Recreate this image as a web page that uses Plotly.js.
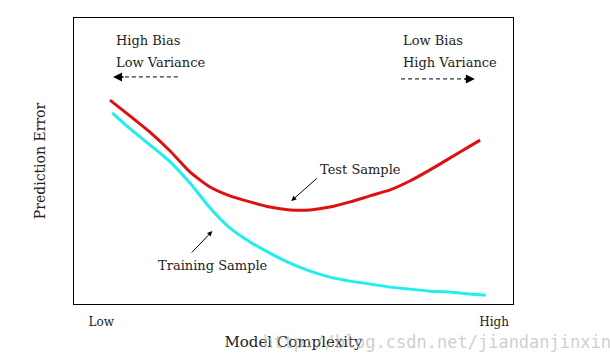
<!DOCTYPE html>
<html>
<head>
<meta charset="utf-8">
<script src="https://cdn.plot.ly/plotly-3.0.1.min.js"></script>
<style>html,body{margin:0;padding:0;background:#fff;}#chart{width:610px;height:357px;}</style>
</head>
<body>
<div id="chart"></div>
<script>
// Model complexity (0 = low, 100 = high) and prediction error (arbitrary units)
var testX = [8.2, 12.8, 17.3, 21.9, 26.4, 31.0, 35.5, 40.1, 44.6, 49.2, 53.8, 58.3, 62.9, 67.4, 72.0, 76.5, 81.1, 85.6, 90.2, 92.5];
var testY = [71.3, 65.7, 60.1, 53.5, 46.2, 40.9, 37.8, 35.7, 33.9, 32.9, 32.9, 33.9, 35.7, 37.8, 39.9, 43.0, 46.9, 51.0, 55.2, 57.3];
var trainX = [8.7, 12.8, 17.3, 21.9, 26.4, 31.0, 35.5, 40.1, 44.6, 49.2, 53.8, 58.3, 62.9, 67.4, 72.0, 76.5, 81.1, 85.6, 90.2, 93.8];
var trainY = [66.8, 61.2, 55.6, 49.7, 42.3, 33.6, 26.6, 21.7, 17.8, 14.3, 11.5, 9.4, 8.0, 7.0, 5.9, 5.2, 4.5, 4.2, 3.5, 3.1];
var tickVals = [6.2, 95.7];
var tickText = ["Low", "High"];

var serif = "'DejaVu Serif', 'Liberation Serif', serif";
var txtColor = "#222";

var traces = [
  {x: testX, y: testY, mode: "lines", name: "Test Sample",
   line: {color: "#dd1111", width: 3, shape: "spline", smoothing: 0.6}},
  {x: trainX, y: trainY, mode: "lines", name: "Training Sample",
   line: {color: "#22eeee", width: 3, shape: "spline", smoothing: 0.6}}
];

var layout = {
  width: 610, height: 357,
  margin: {l: 74, r: 97, t: 18, b: 53},
  paper_bgcolor: "#fff", plot_bgcolor: "#fff",
  showlegend: false,
  xaxis: {
    range: [0, 100], showgrid: false, zeroline: false,
    showline: true, mirror: true, linecolor: "#000", linewidth: 1,
    tickvals: tickVals, ticktext: tickText, ticks: "",
    ticklabelstandoff: 7,
    tickfont: {family: serif, size: 12, color: txtColor},
    title: {text: "Model Complexity", font: {family: serif, size: 15, color: txtColor}, standoff: 8}
  },
  yaxis: {
    range: [0, 100], showgrid: false, zeroline: false,
    showline: true, mirror: true, linecolor: "#000", linewidth: 1,
    showticklabels: false, ticks: "",
    title: {text: "Prediction Error", font: {family: serif, size: 14, color: txtColor}, standoff: 24}
  },
  shapes: [
    {type: "line", xref: "x", yref: "y", x0: 10, x1: 24, y0: 79.4, y1: 79.4,
     line: {color: "#000", width: 1, dash: "4px,3px"}},
    {type: "line", xref: "x", yref: "y", x0: 74.5, x1: 89, y0: 78.7, y1: 78.7,
     line: {color: "#000", width: 1, dash: "4px,3px"}}
  ],
  annotations: [
    {x: 9.1, y: 92.0, xref: "x", yref: "y", text: "High Bias", showarrow: false, xanchor: "left",
     font: {family: serif, size: 13, color: txtColor}},
    {x: 9.1, y: 84.6, xref: "x", yref: "y", text: "Low Variance", showarrow: false, xanchor: "left",
     font: {family: serif, size: 13, color: txtColor}},
    {x: 74.5, y: 92.0, xref: "x", yref: "y", text: "Low Bias", showarrow: false, xanchor: "left",
     font: {family: serif, size: 13, color: txtColor}},
    {x: 74.5, y: 84.6, xref: "x", yref: "y", text: "High Variance", showarrow: false, xanchor: "left",
     font: {family: serif, size: 13, color: txtColor}},
    // arrow heads
    {x: 8.9, y: 79.4, xref: "x", yref: "y", ax: 12, ay: 0, text: "", showarrow: true,
     arrowhead: 2, arrowsize: 1.2, arrowwidth: 1.5, arrowcolor: "#000"},
    {x: 91.3, y: 78.7, xref: "x", yref: "y", ax: -12, ay: 0, text: "", showarrow: true,
     arrowhead: 2, arrowsize: 1.2, arrowwidth: 1.5, arrowcolor: "#000"},
    // Test Sample
    {x: 55.6, y: 47.2, xref: "x", yref: "y", text: "Test Sample", showarrow: false, xanchor: "left",
     font: {family: serif, size: 13, color: txtColor}},
    {x: 49.5, y: 36.0, xref: "x", yref: "y", ax: 27, ay: -24, text: "", showarrow: true,
     arrowhead: 2, arrowsize: 1, arrowwidth: 1, arrowcolor: "#000"},
    // Training Sample
    {x: 18.7, y: 13.3, xref: "x", yref: "y", text: "Training Sample", showarrow: false, xanchor: "left",
     font: {family: serif, size: 13, color: txtColor}},
    {x: 31.5, y: 25.5, xref: "x", yref: "y", ax: -22, ay: 23, text: "", showarrow: true,
     arrowhead: 2, arrowsize: 1, arrowwidth: 1, arrowcolor: "#000"},
    // watermark (present in the reference image)
    {x: 0, y: 0, xref: "paper", yref: "paper", text: "http://blog.csdn.net/jiandanjinxin", showarrow: false,
     xanchor: "left", yanchor: "middle",
     font: {family: "'DejaVu Sans Mono', 'Liberation Mono', monospace", size: 17, color: "rgba(185,185,185,0.7)"}}
  ]
};
var pw = 610 - 74 - 97, ph = 357 - 18 - 53;
var wm = layout.annotations[layout.annotations.length - 1];
wm.x = (261 - 74) / pw;
wm.y = (357 - 53 - 342) / ph;

Plotly.newPlot("chart", traces, layout, {displayModeBar: false, staticPlot: true});
</script>
</body>
</html>
